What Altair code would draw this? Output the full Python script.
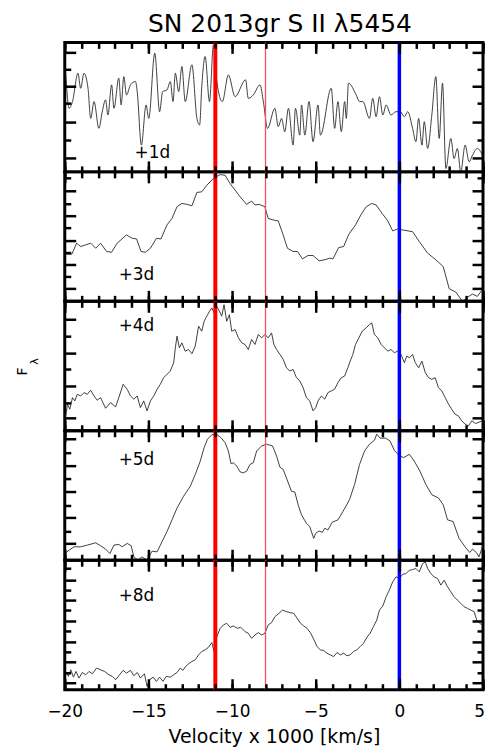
import altair as alt
import pandas as pd

# ---------------- data ----------------
v1 = [-19.94, -19.74, -19.54, -19.21, -19.05, -18.85, -18.61, -18.45, -18.25, -17.96, -17.76, -17.56, -17.42,
      -17.20, -17.06, -16.77, -16.63, -16.47, -16.31, -16.07, -15.77, -15.67, -15.42, -15.14, -14.98, -14.62,
      -14.33, -14.15, -13.89, -13.69, -13.53, -13.39, -13.19, -13.00, -12.80, -12.40, -12.10, -11.94, -11.81,
      -11.61, -11.35, -11.11, -10.91, -10.58, -10.22, -9.82, -9.19, -9.03, -8.73, -8.33, -8.13, -7.88, -7.44,
      -7.24, -7.04, -6.85, -6.63, -6.35, -6.21, -5.95, -5.85, -5.65, -5.40, -5.16, -4.86, -4.72, -4.07, -3.87,
      -3.67, -3.47, -3.27, -3.17, -3.04, -2.58, -2.38, -2.18, -1.79, -1.59, -1.39, -1.19, -0.99, -0.79, -0.50,
      -0.20, 0.06, 0.30, 0.50, 0.79, 0.99, 1.15, 1.35, 1.49, 1.69, 1.94, 2.18, 2.38, 2.58, 2.78, 3.08, 3.27,
      3.47, 3.67, 3.93, 4.17, 4.37, 4.66, 4.96]
f1 = [0.762, 0.491, 0.543, 0.762, 0.646, 0.762, 0.646, 0.413, 0.543, 0.336, 0.465, 0.556, 0.439,
      0.672, 0.491, 0.724, 0.517, 0.736, 0.594, 0.672, 0.698, 0.620, 0.207, 0.517, 0.413, 0.917,
      0.465, 0.620, 0.633, 0.698, 0.543, 0.762, 0.620, 0.814, 0.543, 0.827, 0.413, 0.362, 0.659,
      0.891, 0.543, 0.982, 0.698, 0.543, 0.749, 0.581, 0.711, 0.568, 0.594, 0.672, 0.543, 0.336, 0.491,
      0.349, 0.413, 0.310, 0.491, 0.207, 0.491, 0.284, 0.517, 0.284, 0.543, 0.233, 0.517, 0.284, 0.646, 0.336,
      0.543, 0.310, 0.543, 0.413, 0.685, 0.594, 0.543, 0.543, 0.413, 0.568, 0.426, 0.581, 0.439, 0.517, 0.439,
      0.465, 0.465, 0.426, 0.465, 0.336, 0.233, 0.413, 0.207, 0.388, 0.181, 0.439, 0.736, 0.258, 0.685, 0.026,
      0.258, 0.103, 0.181, 0.000, 0.207, 0.078, 0.129, 0.181, 0.129]

v2 = [-20.00, -19.58, -19.29, -19.05, -18.75, -18.45, -18.15, -17.86, -17.50, -17.20, -16.87, -16.31, -15.97,
      -15.71, -15.44, -15.18, -14.88, -14.52, -14.25, -13.89, -13.59, -13.29, -13.00, -12.70, -12.40, -12.10,
      -11.81, -11.51, -11.11, -10.71, -10.42, -10.12, -9.82, -9.52, -9.13, -8.83, -8.63, -8.37, -8.04, -7.84,
      -7.54, -7.24, -6.98, -6.69, -6.35, -6.09, -5.79, -5.46, -5.16, -4.80, -4.46, -4.17, -3.97, -3.63, -3.33,
      -3.02, -2.62, -2.28, -1.98, -1.65, -1.39, -1.03, -0.69, -0.40, -0.10, 0.20, 0.79, 1.19, 1.69, 2.18, 2.62,
      2.98, 3.37, 3.77, 4.07, 4.37, 4.66, 4.96]
f2 = [0.364, 0.364, 0.449, 0.423, 0.436, 0.449, 0.410, 0.449, 0.385, 0.379, 0.449, 0.513, 0.487,
      0.482, 0.385, 0.379, 0.410, 0.487, 0.482, 0.590, 0.641, 0.731, 0.756, 0.749, 0.738, 0.841,
      0.846, 0.897, 0.949, 0.979, 0.974, 0.910, 0.859, 0.808, 0.749, 0.774, 0.744, 0.749, 0.731, 0.641,
      0.628, 0.621, 0.526, 0.410, 0.385, 0.385, 0.328, 0.354, 0.354, 0.313, 0.321, 0.333, 0.328, 0.415, 0.423,
      0.518, 0.590, 0.672, 0.731, 0.756, 0.744, 0.679, 0.621, 0.544, 0.559, 0.551, 0.538, 0.462, 0.372, 0.321, 0.269,
      0.097, 0.072, 0.000, 0.031, 0.056, 0.038, 0.090]

v3 = [-19.94, -19.84, -19.70, -19.54, -19.40, -19.25, -19.05, -18.85, -18.65, -18.45, -18.25, -18.06, -17.86,
      -17.56, -17.26, -16.96, -16.77, -16.51, -16.27, -16.07, -15.87, -15.67, -15.48, -15.28, -15.08, -14.88,
      -14.68, -14.48, -14.29, -14.09, -13.89, -13.69, -13.49, -13.39, -13.29, -13.15, -13.00, -12.80, -12.60,
      -12.40, -12.20, -12.00, -11.81, -11.67, -11.51, -11.35, -11.21, -11.07, -10.91, -10.75, -10.62, -10.48,
      -10.32, -10.16, -10.02, -9.82, -9.62, -9.42, -9.23, -9.03, -8.83, -8.63, -8.43, -8.23, -8.04, -7.84,
      -7.64, -7.50, -7.34, -7.14, -6.94, -6.75, -6.55, -6.35, -6.15, -5.95, -5.75, -5.56, -5.36, -5.16, -5.00,
      -4.86, -4.66, -4.46, -4.27, -4.07, -3.87, -3.67, -3.47, -3.27, -3.08, -2.94, -2.78, -2.62, -2.42, -2.22,
      -1.98, -1.79, -1.65, -1.49, -1.29, -1.09, -0.89, -0.69, -0.50, -0.30, -0.10, 0.10, 0.30, 0.44, 0.60, 0.79,
      0.95, 1.15, 1.35, 1.55, 1.75, 1.94, 2.14, 2.34, 2.54, 2.74, 2.94, 3.13, 3.33, 3.53, 3.73, 3.93, 4.13,
      4.33, 4.56, 4.96]
f3 = [0.115, 0.205, 0.167, 0.256, 0.231, 0.282, 0.269, 0.295, 0.282, 0.313, 0.269, 0.236, 0.256,
      0.174, 0.218, 0.185, 0.256, 0.359, 0.321, 0.269, 0.244, 0.269, 0.179, 0.231, 0.154, 0.231,
      0.269, 0.321, 0.359, 0.410, 0.436, 0.462, 0.526, 0.641, 0.731, 0.641, 0.679, 0.615, 0.628,
      0.595, 0.654, 0.808, 0.769, 0.846, 0.885, 0.923, 0.949, 0.910, 0.962, 0.923, 0.885, 0.974,
      0.846, 0.897, 0.769, 0.782, 0.718, 0.679, 0.667, 0.628, 0.705, 0.667, 0.744, 0.718, 0.744, 0.718,
      0.756, 0.667, 0.628, 0.590, 0.551, 0.487, 0.462, 0.474, 0.410, 0.385, 0.333, 0.256, 0.231, 0.154, 0.179,
      0.231, 0.269, 0.244, 0.295, 0.308, 0.321, 0.372, 0.410, 0.423, 0.487, 0.538, 0.590, 0.667, 0.718, 0.769,
      0.795, 0.821, 0.833, 0.744, 0.718, 0.667, 0.641, 0.615, 0.628, 0.603, 0.615, 0.590, 0.526, 0.577, 0.564, 0.590,
      0.526, 0.487, 0.538, 0.449, 0.410, 0.397, 0.410, 0.333, 0.308, 0.256, 0.205, 0.167, 0.128, 0.115, 0.077,
      0.051, 0.038, 0.077, 0.056, 0.077]

v4 = [-20.00, -19.74, -19.44, -19.05, -18.65, -18.15, -17.86, -17.56, -17.30, -17.06, -16.77, -16.57, -16.27,
      -16.03, -15.87, -15.63, -15.38, -15.08, -14.78, -14.48, -14.19, -13.89, -13.59, -13.29, -12.90, -12.50,
      -12.20, -11.90, -11.67, -11.47, -11.21, -10.95, -10.67, -10.42, -10.22, -10.06, -9.92, -9.72, -9.52,
      -9.33, -9.13, -8.93, -8.73, -8.53, -8.23, -7.94, -7.58, -7.34, -7.14, -6.94, -6.75, -6.45, -6.25, -6.05,
      -5.85, -5.56, -5.36, -5.12, -5.00, -4.80, -4.60, -4.46, -4.27, -4.01, -3.67, -3.37, -2.98, -2.68, -2.38,
      -2.08, -1.79, -1.49, -1.35, -1.15, -0.83, -0.56, -0.30, -0.04, 0.24, 0.60, 0.89, 1.23, 1.59, 1.94, 2.34,
      2.62, 2.88, 3.21, 3.57, 3.97, 4.21, 4.37, 4.60, 4.76, 5.00]
f4 = [0.052, 0.078, 0.104, 0.104, 0.117, 0.135, 0.112, 0.086, 0.052, 0.117, 0.122, 0.104, 0.130,
      0.112, 0.026, 0.000, 0.026, 0.000, 0.070, 0.065, 0.143, 0.221, 0.312, 0.403, 0.494, 0.571,
      0.662, 0.766, 0.870, 0.935, 0.969, 0.974, 0.948, 0.909, 0.844, 0.745, 0.753, 0.727, 0.683,
      0.675, 0.688, 0.740, 0.753, 0.844, 0.883, 0.896, 0.883, 0.805, 0.719, 0.701, 0.636, 0.532, 0.527, 0.429,
      0.351, 0.286, 0.260, 0.169, 0.208, 0.226, 0.216, 0.247, 0.234, 0.294, 0.312, 0.377, 0.468, 0.584, 0.740,
      0.844, 0.896, 0.927, 0.974, 0.943, 0.943, 0.922, 0.849, 0.813, 0.792, 0.818, 0.766, 0.688, 0.584, 0.506, 0.481,
      0.429, 0.312, 0.299, 0.169, 0.096, 0.060, 0.086, 0.060, 0.026, 0.117]

v5 = [-19.94, -19.78, -19.64, -19.48, -19.33, -19.15, -18.95, -18.75, -18.55, -18.35, -18.10, -17.86, -17.62,
      -17.36, -17.16, -16.96, -16.77, -16.51, -16.31, -16.07, -15.87, -15.67, -15.48, -15.24, -15.08, -14.92,
      -14.72, -14.52, -14.33, -14.13, -13.93, -13.69, -13.49, -13.29, -13.10, -12.94, -12.78, -12.60, -12.40,
      -12.20, -12.00, -11.81, -11.61, -11.41, -11.21, -11.07, -10.91, -10.71, -10.52, -10.32, -10.12, -9.92,
      -9.68, -9.48, -9.23, -9.03, -8.83, -8.63, -8.43, -8.23, -8.04, -7.84, -7.64, -7.44, -7.24, -6.98, -6.75,
      -6.51, -6.31, -6.11, -5.91, -5.71, -5.52, -5.32, -5.12, -4.92, -4.72, -4.52, -4.33, -4.13, -3.93, -3.73,
      -3.53, -3.33, -3.13, -2.94, -2.74, -2.54, -2.34, -2.14, -1.94, -1.75, -1.55, -1.35, -1.19, -0.99, -0.79,
      -0.60, -0.40, -0.20, 0.00, 0.20, 0.40, 0.60, 0.79, 0.99, 1.19, 1.39, 1.55, 1.69, 1.88, 2.08, 2.28, 2.48,
      2.68, 2.88, 3.08, 3.27, 3.47, 3.67, 3.87, 4.07, 4.27, 4.47, 4.62, 4.80, 4.96]
f5 = [0.141, 0.103, 0.154, 0.097, 0.141, 0.090, 0.133, 0.115, 0.141, 0.123, 0.167, 0.154, 0.141,
      0.115, 0.103, 0.077, 0.108, 0.149, 0.128, 0.149, 0.108, 0.133, 0.090, 0.123, 0.026, 0.077,
      0.097, 0.064, 0.097, 0.064, 0.103, 0.097, 0.115, 0.133, 0.167, 0.149, 0.179, 0.200, 0.218,
      0.231, 0.269, 0.295, 0.308, 0.328, 0.364, 0.295, 0.410, 0.474, 0.500, 0.513, 0.482, 0.492,
      0.474, 0.482, 0.449, 0.436, 0.397, 0.423, 0.441, 0.423, 0.436, 0.500, 0.518, 0.564, 0.585, 0.615, 0.603,
      0.595, 0.590, 0.551, 0.513, 0.492, 0.474, 0.441, 0.390, 0.333, 0.308, 0.303, 0.282, 0.269, 0.256, 0.287,
      0.269, 0.282, 0.262, 0.269, 0.295, 0.308, 0.333, 0.359, 0.405, 0.436, 0.487, 0.538, 0.615, 0.646, 0.718,
      0.769, 0.833, 0.872, 0.859, 0.892, 0.897, 0.923, 0.928, 0.936, 0.910, 0.974, 0.987, 0.936, 0.897, 0.872,
      0.859, 0.808, 0.846, 0.795, 0.756, 0.718, 0.692, 0.667, 0.641, 0.628, 0.615, 0.603, 0.538, 0.513, 0.500]

velocities = [v1, v2, v3, v4, v5]
fluxes = [f1, f2, f3, f4, f5]
epochs = ["+1d", "+3d", "+4d", "+5d", "+8d"]
interp = ["monotone", "linear", "linear", "linear", "linear"]

# marker lines (velocity x 1000 km/s)
line_red = [-11]
line_red_thin = [-8]
line_blue = [0]

x_major = [-20, -15, -10, -5, 0, 5]
x_minor = list(range(-20, 6))

y_major = [[0.109, 0.388, 0.664, 0.925],
           [0.097, 0.288, 0.472, 0.663, 0.852],
           [0.102, 0.346, 0.602, 0.859],
           [0.129, 0.328, 0.529, 0.731, 0.938],
           [0.051, 0.212, 0.371, 0.530, 0.692, 0.846]]
y_minor = [[0.250, 0.529, 0.796],
           [0.189, 0.380, 0.572, 0.757, 0.956],
           [0.218, 0.474, 0.731],
           [0.225, 0.426, 0.633, 0.827],
           [0.128, 0.294, 0.453, 0.615, 0.769, 0.936]]

label_pos = [(88, 111), (72, 104), (72, 25), (72, 29), (72, 36)]

FONT = "DejaVu Sans"
W, H = 420, 130
MAJ, MIN = 11, 6

xs = alt.Scale(domain=[-20, 5], nice=False, zero=False)
ys = alt.Scale(domain=[0, 1], nice=False, zero=False)


def xaxis(orient, values, size, labels=False, title=None):
    kw = dict(orient=orient, values=values, tickSize=size, offset=-size, domain=False, grid=False,
              labels=labels, ticks=True, tickColor="black", tickWidth=2.5, zindex=2,
              labelFont=FONT, labelFontSize=17, labelColor="black", labelPadding=14,
              labelFlush=False,
              labelOffset=alt.condition("datum.value == 5", alt.value(-4), alt.value(0)))
    if title:
        kw.update(title=title, titleFont=FONT, titleFontSize=19, titleFontWeight="normal",
                  titleColor="black", titlePadding=8)
    else:
        kw.update(title=None)
    return alt.Axis(**kw)


def yaxis(orient, values, size, title=None):
    kw = dict(orient=orient, values=values, tickSize=size, offset=-size, domain=False, grid=False,
              labels=False, ticks=True, tickColor="black", tickWidth=2.5, zindex=2)
    if title:
        kw.update(title=title, titleFont=FONT, titleFontSize=14, titleFontWeight="normal",
                  titleColor="black", titlePadding=34, titleY=70)
    else:
        kw.update(title=None)
    return alt.Axis(**kw)


panels = []
for i in range(5):
    df = pd.DataFrame({"v": velocities[i], "f": fluxes[i]})
    base = alt.Chart(df)
    last = i == 4
    ytitle = "F" if i == 2 else None

    spec = base.mark_line(color="#2a2a2a", strokeWidth=0.9, clip=True, interpolate=interp[i]).encode(
        x=alt.X("v:Q", scale=xs, axis=xaxis("bottom", x_major, MAJ, labels=last,
                                             title="Velocity x 1000 [km/s]" if last else None)),
        y=alt.Y("f:Q", scale=ys, axis=yaxis("left", y_major[i], MAJ, ytitle)),
    )
    g1 = base.mark_line(strokeOpacity=0).encode(
        x=alt.X("v:Q", scale=xs, axis=xaxis("bottom", x_minor, MIN)),
        y=alt.Y("f:Q", scale=ys, axis=yaxis("left", y_minor[i], MIN)),
    )
    g2 = base.mark_line(strokeOpacity=0).encode(
        x=alt.X("v:Q", scale=xs, axis=xaxis("top", x_major, MAJ)),
        y=alt.Y("f:Q", scale=ys, axis=yaxis("right", y_major[i], MAJ)),
    )
    g3 = base.mark_line(strokeOpacity=0).encode(
        x=alt.X("v:Q", scale=xs, axis=xaxis("top", x_minor, MIN)),
        y=alt.Y("f:Q", scale=ys, axis=yaxis("right", y_minor[i], MIN)),
    )
    r1 = alt.Chart(pd.DataFrame({"v": line_red})).mark_rule(color="#ff0000", strokeWidth=4).encode(
        x=alt.X("v:Q", scale=xs, axis=None))
    r2 = alt.Chart(pd.DataFrame({"v": line_red_thin})).mark_rule(color="#ff4d4d", strokeWidth=1.3).encode(
        x=alt.X("v:Q", scale=xs, axis=None))
    r3 = alt.Chart(pd.DataFrame({"v": line_blue})).mark_rule(color="#0000ff", strokeWidth=3.5).encode(
        x=alt.X("v:Q", scale=xs, axis=None))
    lx, ly = label_pos[i]
    txt = alt.Chart(pd.DataFrame({"t": [epochs[i]]})).mark_text(
        font=FONT, fontSize=17, color="black", align="center", baseline="middle").encode(
        text="t:N", x=alt.value(lx), y=alt.value(ly))
    layers = [spec, g1, g2, g3, r1, r2, r3, txt]
    if i == 2:
        lam = alt.Chart(pd.DataFrame({"t": ["λ"]})).mark_text(
            font=FONT, fontSize=11, color="black", angle=270, align="center", baseline="middle").encode(
            text="t:N", x=alt.value(-29.5), y=alt.value(60.5))
        layers.append(lam)
    p = alt.layer(*layers).resolve_axis(x="independent", y="independent").properties(width=W, height=H)
    panels.append(p)

chart = alt.vconcat(*panels, spacing=0, bounds="flush").properties(
    title=alt.TitleParams("SN 2013gr S II λ5454", font=FONT, fontSize=25, fontWeight="normal",
                          color="black", anchor="middle", offset=2, dx=30),
    padding={"left": 6, "top": 2, "right": 0, "bottom": 2},
).configure_view(stroke="black", strokeWidth=3)

chart.save("out.html", embed_options={"renderer": "svg", "actions": False})
